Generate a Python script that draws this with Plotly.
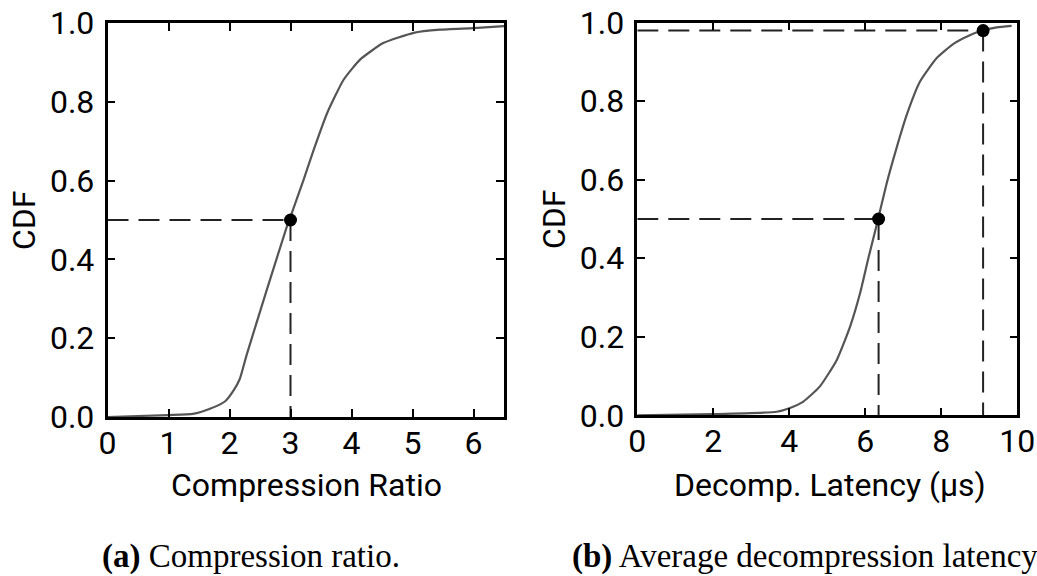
import plotly.graph_objects as go

# ---- data ----
ratio_x = [0.0, 1.0, 1.4, 1.68, 1.93, 2.07, 2.17, 2.28, 2.61, 2.94, 3.02, 3.21, 3.38, 3.60, 3.87, 4.14, 4.52, 5.02, 5.45, 6.0, 6.5]
ratio_cdf = [0.0, 0.005, 0.008, 0.021, 0.04, 0.068, 0.097, 0.157, 0.322, 0.483, 0.517, 0.60, 0.678, 0.771, 0.856, 0.907, 0.949, 0.975, 0.983, 0.987, 0.992]

lat_x = [0.0, 2.0, 3.67, 4.0, 4.37, 4.8, 5.25, 5.6, 5.86, 6.08, 6.30, 6.56, 6.82, 7.09, 7.44, 7.88, 8.32, 8.75, 9.08, 9.46, 9.85]
lat_cdf = [0.0, 0.003, 0.009, 0.018, 0.035, 0.073, 0.141, 0.226, 0.31, 0.40, 0.485, 0.59, 0.68, 0.765, 0.850, 0.910, 0.946, 0.968, 0.980, 0.988, 0.992]

ratio_marks_x = [3.0]
ratio_marks_y = [0.5]
lat_marks_x = [6.35, 9.1]
lat_marks_y = [0.5, 0.98]

left_xticks = [0, 1, 2, 3, 4, 5, 6]
right_xticks = [0, 2, 4, 6, 8, 10]
yticks = [0.0, 0.2, 0.4, 0.6, 0.8, 1.0]

left_xtitle = "Compression Ratio"
right_xtitle = "Decomp. Latency (µs)"
ytitle = "CDF"
caption_a = ("(a)", " Compression ratio.")
caption_b = ("(b)", " Average decompression latency.")

# ---- layout helpers ----
W, H = 1037, 576
def px_x(p):
    return p / W
def px_y(p):
    return 1 - p / H

SANS = "Roboto"
SERIF = "Liberation Serif"
FS = 32

fig = go.Figure()

curve_style = dict(color="#555555", width=2.2)
dash_style = dict(color="#222222", width=2, dash="21px,10px")

def add_panel(xs, ys, mx, my, xa, ya):
    for x, y in zip(mx, my):
        fig.add_trace(go.Scatter(x=[0, x], y=[y, y], mode="lines", line=dash_style,
                                 xaxis=xa, yaxis=ya, hoverinfo="skip", showlegend=False))
        fig.add_trace(go.Scatter(x=[x, x], y=[y, 0], mode="lines", line=dash_style,
                                 xaxis=xa, yaxis=ya, hoverinfo="skip", showlegend=False))
    fig.add_trace(go.Scatter(x=xs, y=ys, mode="lines", line=dict(curve_style, shape="spline", smoothing=0.5),
                             xaxis=xa, yaxis=ya, showlegend=False))
    fig.add_trace(go.Scatter(x=mx, y=my, mode="markers", marker=dict(color="black", size=13),
                             xaxis=xa, yaxis=ya, cliponaxis=False, showlegend=False))

add_panel(ratio_x, ratio_cdf, ratio_marks_x, ratio_marks_y, "x", "y")
add_panel(lat_x, lat_cdf, lat_marks_x, lat_marks_y, "x2", "y2")

axis_common = dict(showline=True, linecolor="black", linewidth=2.5, mirror="allticks",
                   ticks="inside", ticklen=8, tickwidth=1.5, tickcolor="black",
                   showgrid=False, zeroline=False, automargin=False,
                   ticklabeloverflow="allow",
                   tickfont=dict(family=SANS, size=FS, color="black"))
xstand = -4
ystand = 4

fig.update_layout(
    template="none",
    width=W, height=H,
    margin=dict(l=0, r=0, t=0, b=0, autoexpand=False),
    paper_bgcolor="white", plot_bgcolor="white",
    xaxis=dict(axis_common, domain=[px_x(107.5), px_x(504)], range=[0, 6.5],
               tickvals=left_xticks, anchor="y", ticklabelstandoff=xstand),
    yaxis=dict(axis_common, domain=[px_y(417), px_y(23)], range=[0, 1],
               tickvals=yticks, tickformat=".1f", anchor="x", ticklabelstandoff=ystand),
    xaxis2=dict(axis_common, domain=[px_x(637.3), px_x(1017.3)], range=[0, 10],
                tickvals=right_xticks, anchor="y2", ticklabelstandoff=xstand),
    yaxis2=dict(axis_common, domain=[px_y(415.3), px_y(22.7)], range=[0, 1],
                tickvals=yticks, tickformat=".1f", anchor="x2", ticklabelstandoff=ystand),
)

def ann(text, x, y, size=FS, family=SANS, angle=0, xanchor="center"):
    fig.add_annotation(text=text, x=px_x(x), y=px_y(y), xref="paper", yref="paper",
                       showarrow=False, textangle=angle, xanchor=xanchor, yanchor="middle",
                       font=dict(family=family, size=size, color="black"))

ann(ytitle, 24, 220, angle=-90)
ann(ytitle, 554, 219, angle=-90)
ann(left_xtitle, 306, 485)
ann(right_xtitle, 830, 485)
ann("<b>" + caption_a[0] + "</b>" + caption_a[1], 100, 556, size=33, family=SERIF, xanchor="left")
ann("<b>" + caption_b[0] + "</b>" + caption_b[1], 570, 556, size=33, family=SERIF, xanchor="left")

fig.write_html("out.html", config={"displayModeBar": False},
               post_script="document.body.style.margin='0';document.body.style.overflow='hidden';")
